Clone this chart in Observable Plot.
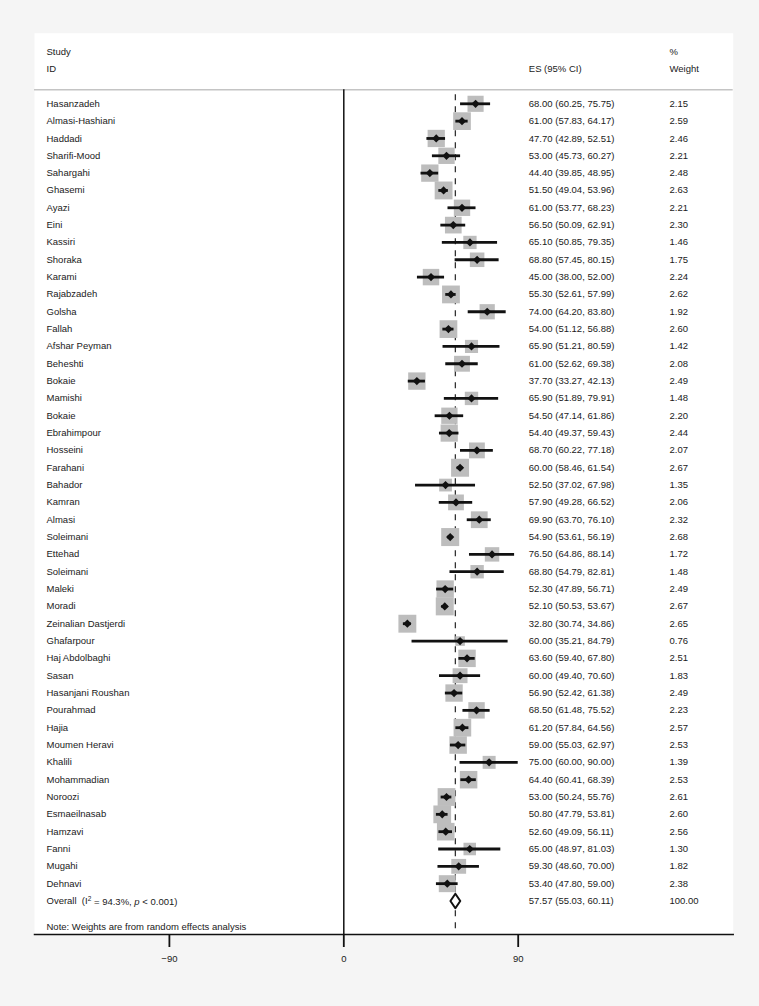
<!DOCTYPE html>
<html><head><meta charset="utf-8">
<script src="https://cdn.jsdelivr.net/npm/d3@7"></script>
<script src="https://cdn.jsdelivr.net/npm/@observablehq/plot@0.6"></script>
<style>
html,body{margin:0;padding:0;background:#f5f5f5;}
#chart svg{display:block;}
</style></head><body><div id="chart"></div>
<script>
const studies = ["Hasanzadeh","Almasi-Hashiani","Haddadi","Sharifi-Mood","Sahargahi","Ghasemi","Ayazi","Eini","Kassiri","Shoraka","Karami","Rajabzadeh","Golsha","Fallah","Afshar Peyman","Beheshti","Bokaie","Mamishi","Bokaie","Ebrahimpour","Hosseini","Farahani","Bahador","Kamran","Almasi","Soleimani","Ettehad","Soleimani","Maleki","Moradi","Zeinalian Dastjerdi","Ghafarpour","Haj Abdolbaghi","Sasan","Hasanjani Roushan","Pourahmad","Hajia","Moumen Heravi","Khalili","Mohammadian","Noroozi","Esmaeilnasab","Hamzavi","Fanni","Mugahi","Dehnavi"];
const es = [68.00,61.00,47.70,53.00,44.40,51.50,61.00,56.50,65.10,68.80,45.00,55.30,74.00,54.00,65.90,61.00,37.70,65.90,54.50,54.40,68.70,60.00,52.50,57.90,69.90,54.90,76.50,68.80,52.30,52.10,32.80,60.00,63.60,60.00,56.90,68.50,61.20,59.00,75.00,64.40,53.00,50.80,52.60,65.00,59.30,53.40];
const lo = [60.25,57.83,42.89,45.73,39.85,49.04,53.77,50.09,50.85,57.45,38.00,52.61,64.20,51.12,51.21,52.62,33.27,51.89,47.14,49.37,60.22,58.46,37.02,49.28,63.70,53.61,64.86,54.79,47.89,50.53,30.74,35.21,59.40,49.40,52.42,61.48,57.84,55.03,60.00,60.41,50.24,47.79,49.09,48.97,48.60,47.80];
const hi = [75.75,64.17,52.51,60.27,48.95,53.96,68.23,62.91,79.35,80.15,52.00,57.99,83.80,56.88,80.59,69.38,42.13,79.91,61.86,59.43,77.18,61.54,67.98,66.52,76.10,56.19,88.14,82.81,56.71,53.67,34.86,84.79,67.80,70.60,61.38,75.52,64.56,62.97,90.00,68.39,55.76,53.81,56.11,81.03,70.00,59.00];
const weights = [2.15,2.59,2.46,2.21,2.48,2.63,2.21,2.30,1.46,1.75,2.24,2.62,1.92,2.60,1.42,2.08,2.49,1.48,2.20,2.44,2.07,2.67,1.35,2.06,2.32,2.68,1.72,1.48,2.49,2.67,2.65,0.76,2.51,1.83,2.49,2.23,2.57,2.53,1.39,2.53,2.61,2.60,2.56,1.30,1.82,2.38];
const overallES = 57.57, overallLo = 55.03, overallHi = 60.11, overallWeight = 100.00;
const overallLabel = "Overall  (I\u00B2 = 94.3%, p < 0.001)";
const noteText = "Note: Weights are from random effects analysis";
const headerLine1 = ["Study", "", "%"];
const headerLine2 = ["ID", "ES (95% CI)", "Weight"];
const xTicks = [-90, 0, 90];

const fmt = d3.format(".2f");
const rows = studies.map((s, i) => ({
  row: i, study: s, es: es[i], lo: lo[i], hi: hi[i], w: weights[i],
  ci: `${fmt(es[i])} (${fmt(lo[i])}, ${fmt(hi[i])})`, wt: fmt(weights[i])
}));
const oRow = studies.length;
const overallRowData = [{row: oRow, study: overallLabel, ci: `${fmt(overallES)} (${fmt(overallLo)}, ${fmt(overallHi)})`, wt: fmt(overallWeight)}];
const allText = rows.concat(overallRowData);
const headers = [
  {row: -3, a: headerLine1[0], b: headerLine1[1], c: headerLine1[2]},
  {row: -2, a: headerLine2[0], b: headerLine2[1], c: headerLine2[2]}
];
const dh = 0.42;
const diamond = [
  {x: overallLo, y: oRow}, {x: overallES, y: oRow - dh}, {x: overallHi, y: oRow},
  {x: overallES, y: oRow + dh}, {x: overallLo, y: oRow}
];

const W = 759, H = 1006;
const mL = 34, mR = 26.3, mT = 32.7, mB = 72;
const colCI = -204.4, colW = -63.7;

const chart = Plot.plot({
  width: W, height: H,
  marginLeft: mL, marginRight: mR, marginTop: mT, marginBottom: mB,
  style: {fontFamily: "'Liberation Sans', Arial, sans-serif", fontSize: "9.5px", background: "transparent", color: "#1a1a1a"},
  x: {domain: [-90, 90], range: [168.9, 517.7], axis: null},
  y: {domain: [0, oRow], range: [103.3, 900.5], axis: null},
  r: {type: "sqrt", domain: [0, 2.7], range: [0, 10.2]},
  marks: [
    Plot.frame({fill: "white", stroke: null}),
    Plot.ruleY([-0.81], {stroke: "#c4c4c4", strokeWidth: 1.6}),
    Plot.ruleX([0], {stroke: "#111", strokeWidth: 1.5, insetTop: 56.6}),
    Plot.ruleX([overallES], {stroke: "#333", strokeWidth: 1.3, strokeDasharray: "6,6", insetTop: 61.6}),
    Plot.dot(rows, {x: "es", y: "row", r: "w", symbol: "square", fill: "#bdbdbd", stroke: null}),
    Plot.ruleY(rows, {y: "row", x1: "lo", x2: "hi", stroke: "#111", strokeWidth: 2.8}),
    Plot.dot(rows, {x: "es", y: "row", symbol: "diamond2", r: 3.7, fill: "#111", stroke: null}),
    Plot.line(diamond, {x: "x", y: "y", fill: "white", stroke: "#111", strokeWidth: 2, curve: "linear"}),
    Plot.text(allText, {y: "row", text: "study", frameAnchor: "left", dx: 12, textAnchor: "start", fill: "#1a1a1a"}),
    Plot.text(allText, {y: "row", text: "ci", frameAnchor: "right", dx: colCI, textAnchor: "start", fill: "#1a1a1a"}),
    Plot.text(allText, {y: "row", text: "wt", frameAnchor: "right", dx: colW, textAnchor: "start", fill: "#1a1a1a"}),
    Plot.text(headers, {y: "row", text: "a", frameAnchor: "left", dx: 12, textAnchor: "start", fill: "#1a1a1a"}),
    Plot.text(headers, {y: "row", text: "b", frameAnchor: "right", dx: colCI, textAnchor: "start", fill: "#1a1a1a"}),
    Plot.text(headers, {y: "row", text: "c", frameAnchor: "right", dx: colW, textAnchor: "start", fill: "#1a1a1a"}),
    Plot.text([noteText], {y: [oRow + 1.5], text: d => d, frameAnchor: "left", dx: 12, textAnchor: "start", fill: "#1a1a1a"}),
    Plot.frame({anchor: "bottom", stroke: "#111", strokeWidth: 1.5}),
    Plot.axisX(xTicks, {anchor: "bottom", tickSize: 13, tickPadding: 8, strokeWidth: 1.8, stroke: "#111", fill: "#1a1a1a", fontSize: 9.5})
  ]
});

document.getElementById("chart").appendChild(chart);

d3.select(chart).selectAll("text").filter(function() { return this.textContent === overallLabel; }).each(function() {
  const t = d3.select(this);
  t.text(null);
  t.append("tspan").text("Overall  (I");
  t.append("tspan").attr("dy", "-0.45em").attr("font-size", "6.5px").text("2");
  t.append("tspan").attr("dy", "0.45em").text(" = 94.3%, ");
  t.append("tspan").attr("font-style", "italic").text("p");
  t.append("tspan").text(" < 0.001)");
});
</script>
</body></html>
